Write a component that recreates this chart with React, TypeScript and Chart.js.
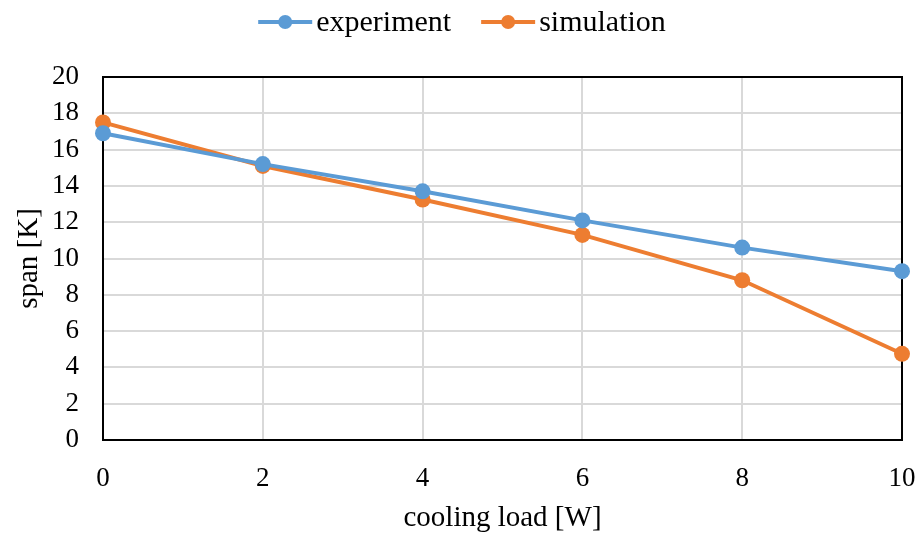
import React, { useEffect, useRef } from "react";
import { Chart, registerables } from "chart.js";
Chart.register(...registerables);

const coolingLoad = [0, 2, 4, 6, 8, 10];
const experiment = [16.9, 15.2, 13.7, 12.1, 10.6, 9.3];
const simulation = [17.5, 15.1, 13.25, 11.3, 8.8, 4.75];
const seriesNames = ["experiment", "simulation"];
const seriesColors = ["#5B9BD5", "#ED7D31"];
const xTitle = "cooling load [W]";
const yTitle = "span [K]";

const FONT = '"Liberation Serif", "Times New Roman", serif';

const framePlugin = {
  id: "frame",
  beforeDatasetsDraw(chart: any) {
    const { ctx, chartArea } = chart;
    ctx.save();
    ctx.strokeStyle = "#000";
    ctx.lineWidth = 2;
    ctx.strokeRect(chartArea.left, chartArea.top, chartArea.right - chartArea.left, chartArea.bottom - chartArea.top);
    ctx.restore();
  },
};

const legendPlugin = {
  id: "lineLegend",
  afterDraw(chart: any) {
    const { ctx } = chart;
    const lineLen = 54;
    const gapText = 4;
    const gapItems = 30;
    const y = 22;
    ctx.save();
    ctx.font = `30px ${FONT}`;
    const widths = seriesNames.map((n) => ctx.measureText(n).width);
    const total = widths.reduce((a, w) => a + lineLen + gapText + w, 0) + gapItems * (seriesNames.length - 1);
    let x = chart.width / 2 - total / 2;
    seriesNames.forEach((name, i) => {
      ctx.strokeStyle = seriesColors[i];
      ctx.lineWidth = 4;
      ctx.beginPath();
      ctx.moveTo(x, y);
      ctx.lineTo(x + lineLen, y);
      ctx.stroke();
      ctx.fillStyle = seriesColors[i];
      ctx.beginPath();
      ctx.arc(x + lineLen / 2, y, 7, 0, Math.PI * 2);
      ctx.fill();
      ctx.fillStyle = "#000";
      ctx.textAlign = "left";
      ctx.textBaseline = "middle";
      ctx.fillText(name, x + lineLen + gapText, y + 1);
      x += lineLen + gapText + widths[i] + gapItems;
    });
    ctx.restore();
  },
};

export default function App() {
  const ref = useRef<HTMLCanvasElement>(null);
  useEffect(() => {
    document.body.style.margin = "0";
    const seriesData = [experiment, simulation];
    const chart = new Chart(ref.current!, {
      type: "line",
      data: {
        datasets: seriesNames.map((name, i) => ({
          label: name,
          data: coolingLoad.map((x, j) => ({ x, y: seriesData[i][j] })),
          borderColor: seriesColors[i],
          backgroundColor: seriesColors[i],
          borderWidth: 4,
          pointRadius: 8,
          pointHoverRadius: 8,
          pointBorderWidth: 0,
          tension: 0,
          clip: false,
        })),
      },
      options: {
        animation: false,
        responsive: false,
        maintainAspectRatio: false,
        layout: { padding: { top: 77, right: 22, left: 12, bottom: 4 } },
        plugins: { legend: { display: false }, tooltip: { enabled: false } },
        scales: {
          x: {
            type: "linear",
            min: 0,
            max: 10,
            afterFit: (scale: any) => {
              scale.height = 96;
              scale.paddingLeft = 0;
              scale.paddingRight = 0;
            },
            ticks: { stepSize: 2, color: "#000", font: { family: FONT, size: 27 }, padding: 23 },
            grid: { color: "#d9d9d9", lineWidth: 2, drawTicks: false },
            border: { display: false },
            title: { display: true, text: xTitle, color: "#000", font: { family: FONT, size: 29 }, padding: { top: 0, bottom: 0 } },
          },
          y: {
            min: 0,
            max: 20,
            afterFit: (scale: any) => {
              scale.width = 91;
              scale.paddingTop = 0;
              scale.paddingBottom = 0;
            },
            ticks: { stepSize: 2, color: "#000", font: { family: FONT, size: 27 }, padding: 24 },
            grid: { color: "#d9d9d9", lineWidth: 2, drawTicks: false },
            border: { display: false },
            title: { display: true, text: yTitle, color: "#000", font: { family: FONT, size: 29 }, padding: { top: 0, bottom: 6 } },
          },
        },
      },
      plugins: [framePlugin, legendPlugin],
    });
    return () => chart.destroy();
  }, []);
  return (
    <div style={{ width: 924, height: 540 }}>
      <canvas ref={ref} width={924} height={540} style={{ display: "block" }} />
    </div>
  );
}
